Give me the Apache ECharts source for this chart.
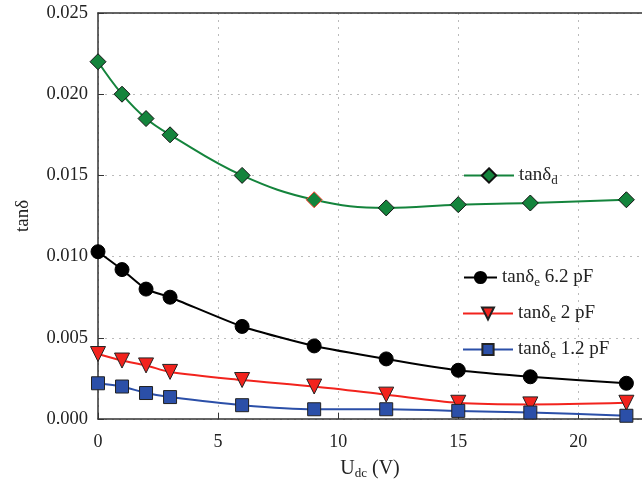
<!DOCTYPE html>
<html>
<head>
<meta charset="utf-8">
<script src="https://cdn.jsdelivr.net/npm/echarts@6/dist/echarts.min.js"></script>
<style>
  html, body { margin: 0; padding: 0; background: #fff; }
  #char { width: 642px; height: 487px; }
</style>
</head>
<body>
<div id="char"></div>
<script>
// bias voltage (V)
var udc = [0, 1, 2, 3, 6, 9, 12, 15, 18, 22];
// loss tangents
var tanD = [0.0220, 0.0200, 0.0185, 0.0175, 0.0150, 0.0135, 0.0130, 0.0132, 0.0133, 0.0135];
var tanE62 = [0.0103, 0.0092, 0.0080, 0.0075, 0.0057, 0.0045, 0.0037, 0.0030, 0.0026, 0.0022];
var tanE2 = [0.0040, 0.0036, 0.0033, 0.0029, 0.0024, 0.0020, 0.0015, 0.0010, 0.0009, 0.0010];
var tanE12 = [0.0022, 0.0020, 0.0016, 0.00135, 0.00085, 0.0006, 0.0006, 0.0005, 0.0004, 0.0002];
var yTicks = [0, 0.005, 0.010, 0.015, 0.020, 0.025];

function pairs(ys) {
  return ys.map(function (y, i) { return [udc[i], y]; });
}

var serif = "Liberation Serif";
var legendRich = {
  m: { fontFamily: serif, fontSize: 19, color: "#222" },
  s: { fontFamily: serif, fontSize: 13, color: "#222", padding: [10, 0, 0, 0] }
};
var legendLabels = {
  d: "{m|tanδ}{s|d}",
  e62: "{m|tanδ}{s|e}{m| 6.2 pF}",
  e2: "{m|tanδ}{s|e}{m| 2 pF}",
  e12: "{m|tanδ}{s|e}{m| 1.2 pF}"
};

function legendAt(name, left, top, w, h) {
  return {
    data: [name],
    left: left,
    top: top,
    itemWidth: w,
    itemHeight: h,
    selectedMode: false,
    formatter: function (n) { return legendLabels[n]; },
    textStyle: { rich: legendRich }
  };
}

var greenData = pairs(tanD);
// one marker in the original has a red outline
greenData[5] = { value: greenData[5], itemStyle: { borderColor: "#ff3a2a" } };

var xMax = 22.65;
var axisColor = "#333";

var myChart = echarts.init(document.getElementById("char"));
var option = {
  animation: false,
  grid: {
    left: 98,
    top: 13,
    right: 0,
    bottom: 68
  },
  legend: [
    legendAt("d", 458, 161, 50, 18),
    legendAt("e62", 458, 263, 33, 14),
    legendAt("e2", 457, 299, 50, 15),
    legendAt("e12", 457, 335, 50, 14)
  ],
  xAxis: [
    {
      type: "value",
      min: 0,
      max: xMax,
      interval: 5,
      name: "{m|U}{s|dc}{m| (V)}",
      nameLocation: "middle",
      nameGap: 38,
      nameTextStyle: {
        rich: {
          m: { fontFamily: serif, fontSize: 20, color: "#222" },
          s: { fontFamily: serif, fontSize: 13, color: "#222", padding: [10, 0, 0, 0] }
        }
      },
      axisLine: { show: true, onZero: false, lineStyle: { color: axisColor, width: 1.5 } },
      axisTick: { show: true, inside: true, length: 6, lineStyle: { color: axisColor } },
      axisLabel: {
        fontFamily: serif, fontSize: 18, color: "#222", margin: 14,
        showMaxLabel: false
      },
      splitLine: { show: true, lineStyle: { type: [2, 5], color: "#bbb" } }
    },
    {
      // top frame line only
      type: "value",
      position: "top",
      min: 0,
      max: xMax,
      interval: 5,
      axisLine: { show: true, onZero: false, lineStyle: { color: axisColor, width: 1.5 } },
      axisTick: { show: false },
      axisLabel: { show: false },
      splitLine: { show: false }
    }
  ],
  yAxis: {
    type: "value",
    min: yTicks[0],
    max: yTicks[yTicks.length - 1],
    interval: 0.005,
    name: "tanδ",
    nameLocation: "middle",
    nameGap: 65,
    nameTextStyle: { fontFamily: serif, fontSize: 19, color: "#222" },
    axisLine: { show: true, lineStyle: { color: axisColor, width: 1.5 } },
    axisTick: { show: true, inside: true, length: 6, lineStyle: { color: axisColor } },
    axisLabel: {
      fontFamily: serif, fontSize: 18.5, color: "#222", margin: 10,
      formatter: function (v) { return v.toFixed(3); }
    },
    splitLine: { show: true, lineStyle: { type: [2, 5], color: "#bbb" } }
  },
  series: [
    {
      name: "d",
      type: "line",
      smooth: 0.4,
      data: greenData,
      symbol: "diamond",
      symbolSize: 16,
      lineStyle: { color: "#14843c", width: 2 },
      itemStyle: { color: "#14843c", borderColor: "#111", borderWidth: 1 }
    },
    {
      name: "e62",
      type: "line",
      smooth: 0.2,
      data: pairs(tanE62),
      symbol: "circle",
      symbolSize: 14,
      lineStyle: { color: "#000", width: 2 },
      itemStyle: { color: "#000", borderColor: "#000", borderWidth: 1 }
    },
    {
      name: "e2",
      type: "line",
      smooth: 0.3,
      data: pairs(tanE2),
      symbol: "triangle",
      symbolRotate: 180,
      symbolSize: 15,
      lineStyle: { color: "#f2231d", width: 2 },
      itemStyle: { color: "#f2231d", borderColor: "#222", borderWidth: 1 }
    },
    {
      name: "e12",
      type: "line",
      smooth: 0.3,
      data: pairs(tanE12),
      symbol: "rect",
      symbolSize: 13,
      lineStyle: { color: "#2b4fa8", width: 2 },
      itemStyle: { color: "#2b4fa8", borderColor: "#222", borderWidth: 1 }
    }
  ]
};
myChart.setOption(option);
</script>
</body>
</html>
